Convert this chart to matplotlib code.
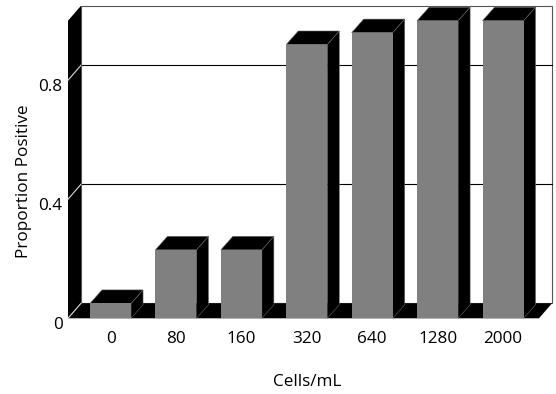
import matplotlib
matplotlib.use("Agg")
import matplotlib.pyplot as plt
from matplotlib.patches import Polygon, Rectangle
from matplotlib.transforms import ScaledTranslation

# Data
categories = ["0", "80", "160", "320", "640", "1280", "2000"]
proportions = [0.05, 0.23, 0.23, 0.92, 0.96, 1.0, 1.0]
ytick_values = [0, 0.4, 0.8]
ytick_labels = ["0", "0.4", "0.8"]

plt.rcParams["font.family"] = ["Open Sans", "DejaVu Sans"]
FS = 12.3

W, H = 556, 394
fig = plt.figure(figsize=(W / 100, H / 100), dpi=100)
# front plane of the 3-D box
ax = fig.add_axes([68 / W, (H - 318.3) / H, 471 / W, 297.6 / H])
x0, x1 = -0.65, 6.55
ax.set_xlim(x0, x1)
ax.set_ylim(0, 1)
for s in ax.spines.values():
    s.set_visible(False)

# depth offsets (data units)
wdx, wdy = 13 / 65.4, 15 / 297.6     # walls / floor
bdx, bdy = 12 / 65.4, 13.5 / 297.6   # columns
bw = 41 / 65.4

# back wall
ax.add_patch(Rectangle((x0 + wdx, wdy), x1 - x0, 1, facecolor="white",
                       edgecolor="#555555", lw=0.8, clip_on=False, zorder=1))
# gridlines on back wall
for v in ytick_values[1:]:
    ax.plot([x0 + wdx, x1 + wdx], [v + wdy, v + wdy], color="black",
            lw=0.8, clip_on=False, zorder=2)
# left wall
ax.add_patch(Polygon([(x0, 0), (x0, 1), (x0 + wdx, 1 + wdy), (x0 + wdx, wdy)],
                     closed=True, facecolor="black", edgecolor="none",
                     clip_on=False, zorder=3))
# floor
ax.add_patch(Polygon([(x0, 0), (x1, 0), (x1 + wdx, wdy), (x0 + wdx, wdy)],
                     closed=True, facecolor="black", edgecolor="none",
                     clip_on=False, zorder=3))
# gridline traces across the left wall
for v in ytick_values:
    ax.plot([x0, x0 + wdx], [v, v + wdy], color="#dddddd", lw=0.8,
            clip_on=False, zorder=4)

# columns
for i, v in enumerate(proportions):
    l, r = i - bw / 2, i + bw / 2
    ax.add_patch(Polygon([(r, 0), (r + bdx, bdy), (r + bdx, v + bdy), (r, v)],
                         closed=True, facecolor="black", edgecolor="#666666",
                         lw=0.4, clip_on=False, zorder=5))
    ax.add_patch(Polygon([(l, v), (r, v), (r + bdx, v + bdy), (l + bdx, v + bdy)],
                         closed=True, facecolor="black", edgecolor="#666666",
                         lw=0.4, clip_on=False, zorder=5))
    ax.add_patch(Rectangle((l, 0), bw, v, facecolor="#808080",
                           edgecolor="none", clip_on=False, zorder=6))

ax.set_xticks(range(len(categories)))
ax.set_xticklabels(categories, fontsize=FS)
ax.set_yticks(ytick_values)
ax.set_yticklabels(ytick_labels, fontsize=FS)
ax.tick_params(axis="both", length=0)
ax.tick_params(axis="x", pad=9)
ax.tick_params(axis="y", pad=4)
for lbl in ax.get_yticklabels():
    lbl.set_transform(lbl.get_transform() + ScaledTranslation(0, -0.045, fig.dpi_scale_trans))

fig.text(307 / W, 1 - 382 / H, "Cells/mL", ha="center", va="center", fontsize=FS)
fig.text(24 / W, 1 - 181 / H, "Proportion Positive", ha="center", va="center",
         rotation=90, fontsize=FS)

fig.savefig("out.png", dpi=100, facecolor="white")
